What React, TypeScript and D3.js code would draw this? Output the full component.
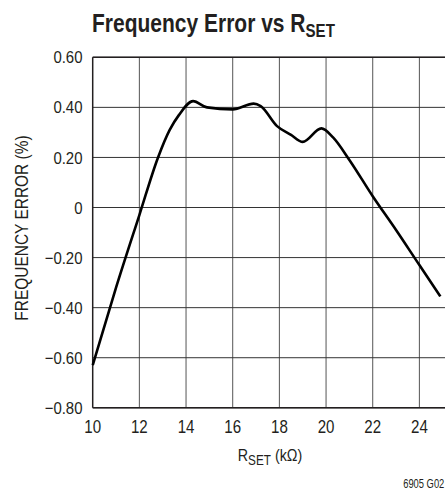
import * as d3 from 'd3';

const rset = [10, 11, 12, 12.8, 13.3, 13.7, 14.3, 14.9, 16.0, 16.9, 17.2, 17.9, 18.5, 19.0, 19.8, 20.3, 21.0, 22.0, 23.0, 24.0, 24.9];
const freqError = [-0.63, -0.32, -0.03, 0.2, 0.31, 0.37, 0.425, 0.4, 0.392, 0.415, 0.405, 0.325, 0.29, 0.262, 0.316, 0.28, 0.19, 0.045, -0.09, -0.23, -0.355];

const xTicks = [10, 12, 14, 16, 18, 20, 22, 24, 26];
const yTicks = [0.6, 0.4, 0.2, 0, -0.2, -0.4, -0.6, -0.8];
const yTickLabels = ['0.60', '0.40', '0.20', '0', '\u22120.20', '\u22120.40', '\u22120.60', '\u22120.80'];

const W = 445;
const H = 494;
const left = 92.7;
const top = 57.3;
const bottom = 407.8;
const font = "'Liberation Sans', Arial, sans-serif";
const ink = '#231f20';

// the original uses a condensed face; squeeze Liberation Sans horizontally
const narrow = (px: number, py: number, sx = 0.84) => `translate(${px},${py}) scale(${sx},1)`;

const App = () => {
  const x = d3.scaleLinear().domain([10, 26]).range([left, left + 8 * 46.67]);
  const y = d3.scaleLinear().domain([-0.8, 0.6]).range([bottom, top]);

  const points = rset.map((r, i) => [r, freqError[i]] as [number, number]);
  const line = d3
    .line<[number, number]>()
    .x((d) => x(d[0]))
    .y((d) => y(d[1]))
    .curve(d3.curveMonotoneX);

  return (
    <svg
      width={W}
      height={H}
      viewBox={`0 0 ${W} ${H}`}
      style={{ position: 'absolute', left: 0, top: 0, background: '#fff', overflow: 'hidden' }}
      fontFamily={font}
    >
      <text transform={narrow(92, 32, 0.84)} fontSize={25} fontWeight="bold" fill={ink}>
        Frequency Error vs R
        <tspan fontSize={18} dy={5}>SET</tspan>
      </text>

      {xTicks.slice(1).map((t) => (
        <line key={'gx' + t} x1={x(t)} x2={x(t)} y1={top} y2={bottom} stroke="#555" strokeWidth={1} />
      ))}
      {yTicks.map((t) => (
        <line key={'gy' + t} x1={left} x2={x(26)} y1={y(t)} y2={y(t)} stroke="#333" strokeWidth={1} />
      ))}
      <line x1={left} x2={left} y1={top} y2={bottom} stroke={ink} strokeWidth={1.5} />
      <line x1={left} x2={x(26)} y1={top} y2={top} stroke={ink} strokeWidth={1.5} />
      <line x1={left} x2={x(26)} y1={bottom} y2={bottom} stroke={ink} strokeWidth={1.5} />

      <path d={line(points) || ''} fill="none" stroke="#000" strokeWidth={2.6} strokeLinejoin="round" />

      {yTicks.map((t, i) => (
        <text key={'yl' + t} transform={narrow(82.5, y(t), 0.88)} dy="0.36em" textAnchor="end" fontSize={17} fill={ink}>
          {yTickLabels[i]}
        </text>
      ))}
      {xTicks.slice(0, 8).map((t) => (
        <text key={'xl' + t} transform={narrow(x(t), 433)} textAnchor="middle" fontSize={18} fill={ink}>
          {t}
        </text>
      ))}

      <text transform={narrow(270, 460.7)} textAnchor="middle" fontSize={17} fill={ink}>
        R<tspan fontSize={14} dy={4}>SET</tspan>
        <tspan dy={-4}>{' (k\u03A9)'}</tspan>
      </text>
      <text transform={`translate(28, 228) rotate(-90) scale(0.86,1)`} textAnchor="middle" fontSize={18} fill={ink}>
        FREQUENCY ERROR (%)
      </text>
      <text transform={narrow(444.3, 487.5, 0.75)} textAnchor="end" fontSize={12.5} fill={ink}>
        6905 G02
      </text>
    </svg>
  );
};

export default App;
